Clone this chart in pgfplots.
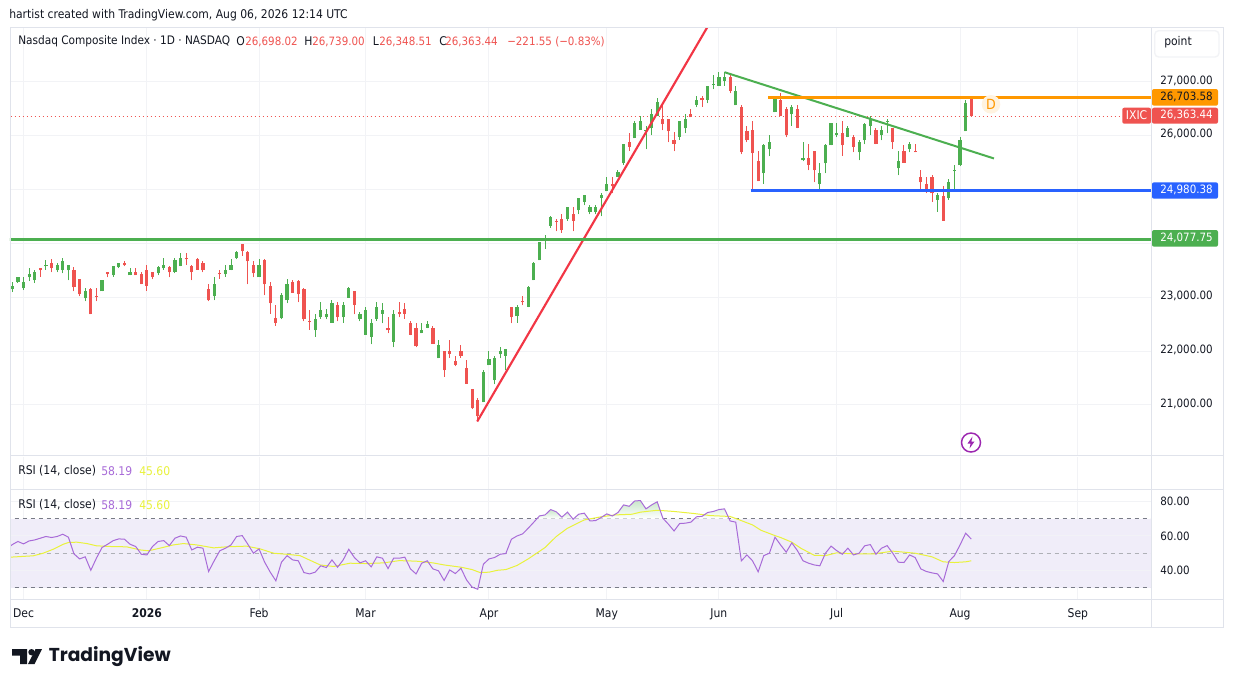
\documentclass[border=0pt]{standalone}
\usepackage{fontspec}
\setmainfont{DejaVu Sans Condensed}
\newfontfamily\logofont{Poppins}
\usepackage{pgfplots}
\usepackage{pgfplotstable}
\pgfplotsset{compat=1.18}
\definecolor{cg}{HTML}{4CAF50}
\definecolor{cr}{HTML}{EF5350}
\definecolor{ctrend}{HTML}{F23645}
\definecolor{corange}{HTML}{FF9800}
\definecolor{cblue}{HTML}{2962FF}
\definecolor{cgrid}{HTML}{F2F3F6}
\definecolor{cframe}{HTML}{E0E3EB}
\definecolor{ctext}{HTML}{131722}
\definecolor{cpurple}{HTML}{A86BD8}
\definecolor{cyellow}{HTML}{E9F23C}
\definecolor{cband}{HTML}{F0EDF9}
\definecolor{cdash}{HTML}{787B86}
\definecolor{cbolt}{HTML}{9C27B0}
\newcommand\numfont{\fontsize{8.6}{11}\selectfont}
\pgfplotstableread{
x o h l c
0 23143 23291 23093 23217
1 23279 23366 23261 23366
2 23162 23366 23131 23273
3 23366 23533 23298 23422
4 23310 23514 23261 23459
6 23570 23682 23514 23589
8 23496 23626 23459 23589
9 23514 23719 23440 23663
10 23496 23607 23310 23607
13 22976 23162 22920 23124
16 23106 23310 23106 23310
18 23403 23570 23384 23570
19 23552 23626 23533 23626
21 23403 23533 23403 23477
26 23440 23570 23403 23552
27 23533 23737 23514 23589
29 23477 23719 23440 23682
30 23570 23812 23570 23737
36 23013 23384 22939 23236
38 23422 23607 23384 23514
39 23514 23700 23496 23607
40 23719 23867 23700 23830
44 23366 23700 23366 23589
48 22605 23087 22586 23032
49 22939 23329 22883 23236
54 22382 22697 22270 22586
55 22623 22902 22604 22753
56 22623 22772 22586 22697
57 22530 22957 22530 22883
59 22623 22902 22530 22864
60 22994 23180 22994 23162
62 22604 22716 22549 22679
63 22307 22809 22307 22753
64 22270 22604 22122 22530
65 22604 22902 22567 22809
66 22697 22883 22512 22753
68 22177 22753 22066 22697
73 22326 22530 22326 22382
74 22437 22567 22419 22493
76 21862 22196 21862 22103
84 21045 21657 21045 21602
85 21732 21992 21732 21843
86 21453 21917 21379 21880
87 21936 22066 21862 22010
88 21917 22029 21639 22029
90 22642 22846 22530 22827
92 22827 23199 22809 23180
93 23310 23660 23310 23644
94 23682 24034 23682 24016
95 24078 24164 23904 24090
96 24331 24517 24294 24480
99 24443 24666 24424 24666
101 24610 24851 24536 24833
102 24777 24907 24703 24889
103 24591 24721 24536 24666
104 24591 24721 24536 24684
105 24851 24944 24499 24889
106 24963 25223 24963 25111
108 25241 25371 25223 25334
109 25483 25854 25464 25836
111 25947 26263 25947 26244
112 26114 26356 26114 26281
113 26077 26188 25743 26096
114 26133 26486 26003 26411
115 26374 26708 26374 26634
119 25984 26281 25928 26281
120 26133 26411 26040 26300
122 26578 26727 26523 26653
124 26671 26931 26597 26931
125 26950 27117 26857 26968
126 26931 27191 26931 27098
127 27024 27191 26931 27098
129 26560 26931 26560 26838
134 25297 25854 25111 25817
135 25761 26021 25613 25891
136 26430 26690 26430 26690
139 26393 26560 26188 26523
141 25539 25891 25520 25594
144 25093 25501 25018 25297
145 25483 25836 25297 25817
146 25817 26244 25817 26226
147 26021 26244 25966 26040
149 25984 26188 25966 26133
151 25687 25910 25539 25873
152 25910 26226 25836 26207
153 26170 26356 26021 26300
155 26003 26170 25910 26114
156 26263 26318 26040 26281
158 25390 25706 25260 25520
160 25761 25891 25687 25836
165 24814 24944 24591 24889
167 24833 25186 24814 25130
168 25340 25464 25018 25371
169 25446 25966 25427 25910
170 26077 26671 26077 26597
}\upbars
\pgfplotstableread{
x o h l c
5 23533 23533 23384 23496
7 23644 23700 23459 23533
11 23496 23552 23106 23180
12 23329 23347 23013 23050
14 23143 23162 22679 22679
15 23013 23162 22920 23001
17 23459 23477 23366 23422
20 23644 23663 23570 23589
22 23477 23533 23403 23403
23 23422 23459 23236 23236
24 23496 23589 23124 23217
25 23459 23477 23329 23384
28 23552 23570 23366 23459
31 23737 23812 23607 23700
32 23570 23589 23310 23459
33 23700 23719 23514 23514
34 23644 23663 23459 23496
35 23143 23236 22920 22939
37 23440 23514 23347 23422
41 23979 23997 23774 23849
42 23830 23849 23236 23663
43 23589 23663 23366 23440
45 23682 23700 23032 23236
46 23217 23273 22697 22883
47 22605 22846 22474 22530
50 23273 23310 23087 23087
51 23292 23310 22902 23050
52 23143 23162 22549 22586
53 22567 22753 22400 22555
58 22846 22902 22549 22623
61 23106 23106 22679 22864
67 22419 22623 22326 22382
69 22734 22920 22623 22679
70 22772 22883 22604 22697
71 22530 22549 22289 22307
72 22437 22530 22066 22085
75 22419 22474 22140 22140
77 21992 22010 21527 21639
78 22010 22196 21880 21936
79 21806 21917 21713 21750
80 22010 22103 21880 21917
81 21694 21825 21397 21397
82 21286 21304 20915 20933
83 21100 21137 20710 20785
89 22827 22827 22512 22623
91 22920 23013 22846 22902
97 24424 24443 24220 24406
98 24461 24536 24201 24239
100 24554 24666 24220 24424
107 25111 25223 24926 25056
110 25891 26040 25724 25798
116 26300 26560 26096 26207
117 26300 26318 25873 26077
118 25928 26059 25706 25854
121 26393 26504 26337 26337
123 26708 26727 26541 26653
128 27098 27117 26783 26838
130 26541 26578 25650 25687
131 26077 26188 25873 25910
132 26114 26263 24981 25669
133 25520 25724 25149 25149
137 26653 26801 26356 26356
138 26504 26523 25966 26003
140 26486 26560 26133 26151
142 25576 25854 25353 25464
143 25724 25724 25130 25353
148 26058 26263 25631 25817
150 25966 26021 25687 25798
154 26096 26151 25836 25854
157 26151 26151 25761 25873
159 25724 25817 25501 25501
161 25706 25854 25687 25687
162 25241 25371 24981 25130
163 25111 25223 24926 24981
164 25241 25260 24777 24926
166 24870 25056 24424 24424
171 26698 26739 26348 26363
}\downbars
\pgfplotstableread{
x r
-1 52.5
0 55.0
1 56.8
2 55.4
3 57.1
4 57.7
5 58.7
6 59.7
7 59.1
8 59.7
9 61.0
10 59.3
11 49.6
12 46.7
13 47.9
14 40.1
15 47.1
16 53.3
17 55.2
18 57.3
19 58.3
20 58.1
21 55.2
22 53.9
23 49.4
24 49.0
25 53.9
26 56.8
27 57.3
28 54.4
29 58.7
30 60.0
31 59.3
32 51.9
33 53.5
34 52.9
35 39.4
36 45.6
37 51.4
38 52.9
39 54.8
40 59.7
41 60.2
42 55.2
43 50.0
44 52.5
45 44.8
46 39.0
47 34.0
48 44.8
49 48.6
50 46.1
51 45.6
52 38.8
53 38.0
54 39.0
55 42.7
56 41.7
57 46.1
58 41.9
59 46.1
60 52.3
61 47.5
62 44.4
63 45.6
64 42.1
65 47.9
66 47.1
67 41.1
68 47.1
69 47.1
70 47.7
71 40.9
72 38.0
73 44.2
74 45.6
75 40.9
76 39.8
77 34.2
78 40.3
79 38.2
80 41.3
81 34.5
82 30.3
83 29.1
84 43.6
85 46.7
86 47.5
87 49.4
88 49.8
89 58.1
90 60.0
91 61.2
92 64.5
93 68.0
94 71.6
95 72.2
96 75.3
97 74.0
98 70.9
99 73.8
100 69.7
101 72.6
102 73.2
103 68.7
104 68.9
105 70.7
106 72.8
107 71.6
108 73.6
109 78.0
110 77.2
111 80.3
112 80.5
113 75.7
114 78.0
115 79.8
116 70.3
117 66.8
118 62.9
119 67.2
120 67.4
121 68.0
122 71.1
123 71.4
124 73.6
125 74.2
126 75.3
127 75.7
128 68.7
129 68.0
130 45.6
131 49.0
132 45.6
133 39.2
134 48.6
135 50.0
136 59.3
137 54.8
138 50.6
139 56.0
140 51.5
141 45.6
142 44.2
143 43.2
144 42.7
145 50.0
146 54.1
147 51.5
148 49.4
149 52.9
150 49.0
151 50.0
152 54.3
153 55.0
154 49.4
155 52.9
156 54.4
157 50.0
158 44.8
159 44.6
160 49.0
161 47.5
162 40.9
163 39.4
164 38.6
165 38.0
166 33.6
167 45.2
168 48.6
169 54.8
170 61.6
171 58.19
}\rsidata
\pgfplotstableread{
x m
-0.4 47.7
3.75 48.5
5.5 50.0
7.3 52.3
9.1 55.2
10 56.2
11.5 56.4
13.3 55.6
15 54.3
17.4 53.9
20.4 53.7
22.8 51.9
24.3 51.4
26.3 52.9
28.7 54.8
30.5 55.6
32.9 54.8
35.9 53.1
38.2 53.7
41.8 54.1
44.2 52.5
46.6 50.0
48.9 49.4
51.3 48.6
54.9 43.2
57.3 42.3
60.2 44.2
63.2 44.0
66.2 44.4
69 45.7
72 45.4
75 44.4
77 43.2
80 41.9
82 40.5
83.4 38.8
85 39.0
86.5 40.1
88 40.5
90 42.9
92 46.7
95 53.3
97 59.7
99 64.5
102 69.3
105 71.1
107.5 72.2
110.5 72.6
112 73.8
115 74.9
118 74.2
121.6 73.0
124.5 71.8
128 71.3
129.5 69.5
132 66.4
133.5 63.3
136 60.2
137 59.1
139 56.4
140.6 52.9
143 48.8
145 48.6
147 50.2
150 49.6
153.6 49.6
157 51.2
161 50.0
164 47.9
166 45.0
168 44.6
170 45.0
171 45.6
}\madata
\pgfplotsset{
  pane/.style={
    scale only axis, width=855.75pt,
    xmin=-0.41, xmax=203.05,
    axis line style={draw=none},
    major tick length=0pt,
    scaled y ticks=false,
    xtick={2,24,44,63,85,106,126,147,169,190},
    xmajorgrids, ymajorgrids,
    grid style={color=cgrid,line width=0.75pt},
    xticklabel style={font=\fontsize{9}{11}\selectfont, color=ctext},
    yticklabel pos=right,
    yticklabel style={
      font=\numfont, color=ctext,
      /pgf/number format/fixed,
      /pgf/number format/fixed zerofill,
      /pgf/number format/precision=2,
      /pgf/number format/1000 sep={,},
      /pgf/number format/assume math mode=true,
      anchor=west,xshift=3.4pt,yshift=1pt},
    clip=true,
  },
  wick/.style={forget plot, no markers, draw=none, error bars/.cd, y dir=plus, y explicit, error mark=none, error bar style={line width=0.75pt,draw=#1,solid}},
  body/.style={forget plot, no markers, draw=none, error bars/.cd, y dir=plus, y explicit, error mark=none, error bar style={line width=2.4pt,draw=#1,solid}},
}
\begin{document}
\begin{tikzpicture}[x=0.75pt,y=-0.75pt,font=\fontsize{9}{11}\selectfont,text=ctext]
\path[use as bounding box,fill=white] (0,0) rectangle (1233,687);
% main pane
\begin{axis}[pane, at={(7.5pt,-341.625pt)}, anchor=south west, height=321pt,
  ymin=20060, ymax=28008,
  xticklabels={},
  ytick={21000,22000,23000,26000,27000},
  extra y ticks={24000,25000}, extra y tick labels={},
  extra y tick style={grid=major},
]
\addplot[forget plot,cr,dash pattern=on 0.75pt off 2.25pt,line width=0.75pt] coordinates {(-1,26363.44)(198.2,26363.44)};
\addplot[wick=cg] table[x=x,y=l,y error plus expr=\thisrow{h}-\thisrow{l}] {\upbars};
\addplot[wick=cr] table[x=x,y=l,y error plus expr=\thisrow{h}-\thisrow{l}] {\downbars};
\addplot[body=cg] table[x=x,y=o,y error plus expr=\thisrow{c}-\thisrow{o}] {\upbars};
\addplot[body=cr] table[x=x,y=c,y error plus expr=\thisrow{o}-\thisrow{c}] {\downbars};
\addplot[forget plot,ctrend,line width=1.6pt] coordinates {(82.9,20692)(123.9,28008)};
\addplot[forget plot,cg,line width=1.5pt] coordinates {(127,27178)(175.05,25576)};
\addplot[forget plot,corange,line width=2.25pt] coordinates {(134.8,26703.58)(204,26703.58)};
\addplot[forget plot,cblue,line width=2.25pt] coordinates {(131.7,24980.38)(204,24980.38)};
\addplot[forget plot,cg,line width=2.25pt] coordinates {(-1,24077.75)(204,24077.75)};
\end{axis}
% empty pane
\begin{axis}[pane, at={(7.5pt,-367.125pt)}, anchor=south west, height=24.75pt,
  ymin=0, ymax=1, ytick=\empty, xticklabels={}]
\end{axis}
% RSI pane
\begin{axis}[pane, at={(7.5pt,-449.625pt)}, anchor=south west, height=82.5pt,
  ymin=23.16, ymax=86.93,
  ytick={40,60,80},
  xticklabels={Dec,\textbf{2026},Feb,Mar,Apr,May,Jun,Jul,Aug,Sep},
  typeset ticklabels with strut,
  xticklabel style={yshift=-2.3pt},
  yticklabel style={yshift=-2.1pt},
]
\addplot[forget plot,fill=cband,draw=none] coordinates {(-1,30)(204,30)(204,70)(-1,70)} -- cycle;
\addplot[forget plot,color=cgrid!80!cband,line width=0.75pt] coordinates {(-1,60)(204,60)};
\addplot[forget plot,color=cgrid!80!cband,line width=0.75pt] coordinates {(-1,40)(204,40)};
\addplot[forget plot,cdash,line width=0.75pt,dash pattern=on 3pt off 3pt] coordinates {(-1,70)(204,70)};
\addplot[forget plot,cdash,line width=0.75pt,dash pattern=on 3pt off 3pt] coordinates {(-1,30)(204,30)};
\addplot[forget plot,cdash!60,line width=0.75pt,dash pattern=on 3pt off 3pt] coordinates {(-1,50)(204,50)};
\addplot[forget plot,draw=none,top color=cg!30,bottom color=white] coordinates {(93.55,70)(94,71.6)(95,72.2)(96,75.3)(97,74)(98,70.9)(99,73.8)(99.9,70)} -- cycle;
\addplot[forget plot,draw=none,top color=cg!12,bottom color=white] coordinates {(100.1,70)(101,72.6)(102,73.2)(102.75,70)} -- cycle;
\addplot[forget plot,draw=none,top color=cg!30,bottom color=white] coordinates {(104.6,70)(105,70.7)(106,72.8)(107,71.6)(108,73.6)(109,78)(110,77.2)(111,80.3)(112,80.5)(113,75.7)(114,78)(115,79.8)(116,70.3)(116.1,70)} -- cycle;
\addplot[forget plot,draw=none,top color=cg!15,bottom color=white] coordinates {(121.7,70)(122,71.1)(123,71.4)(124,73.6)(125,74.2)(126,75.3)(127,75.7)(127.8,70)} -- cycle;
\addplot[forget plot,cyellow,line width=0.75pt] table[x=x,y=m] {\madata};
\addplot[forget plot,cpurple,line width=0.75pt] table[x=x,y=r] {\rsidata};
\end{axis}
% frame
\draw[cframe,line width=0.75pt] (10,27) rectangle (1223,627);
\draw[cframe,line width=0.75pt] (10,455.5) -- (1223,455.5);
\draw[cframe,line width=0.75pt] (10,489.5) -- (1223,489.5);
\draw[cframe,line width=0.75pt] (10,599.5) -- (1223,599.5);
\draw[cframe,line width=0.75pt] (1151.5,27) -- (1151.5,627);
% tags
\newcommand\tagbox[5]{\fill[#1,rounded corners=1.5pt] (1152,#2) rectangle (1218,#3);
  \node[anchor=west,inner sep=0pt,text=#4,font=\numfont] at (1160,{(#2+#3)/2-0.3}) {#5};}
\tagbox{corange}{89}{105.7}{ctext}{26,703.58}
\tagbox{cr}{107.7}{123.7}{white}{26,363.44}
\tagbox{cblue}{182.3}{198.7}{white}{24,980.38}
\tagbox{cg}{230}{246.7}{white}{24,077.75}
\fill[cr,rounded corners=1.5pt] (1122.3,107.7) rectangle (1151,123.7);
\node[anchor=center,inner sep=0pt,text=white] at (1136.6,115.5) {IXIC};
\draw[cgrid,line width=1pt,rounded corners=3pt] (1154.7,30.7) rectangle (1219,57);
\node[anchor=west,inner sep=0pt] at (1164,42.5) {point};
% header text
\node[anchor=west,inner sep=0pt] at (9,14.7) {hartist created with TradingView.com, Aug 06, 2026 12:14 UTC};
\node[anchor=west,inner sep=0pt,font=\fontsize{8.8}{11}\selectfont] at (18,41.5) {Nasdaq Composite Index · 1D · NASDAQ};
\node[anchor=west,inner sep=0pt] at (236,41.5) {O};
\node[anchor=west,inner sep=0pt,text=cr,font=\numfont] at (245,41.5) {26,698.02};
\node[anchor=west,inner sep=0pt] at (304,41.5) {H};
\node[anchor=west,inner sep=0pt,text=cr,font=\numfont] at (312,41.5) {26,739.00};
\node[anchor=west,inner sep=0pt] at (372.5,41.5) {L};
\node[anchor=west,inner sep=0pt,text=cr,font=\numfont] at (379,41.5) {26,348.51};
\node[anchor=west,inner sep=0pt] at (439,41.5) {C};
\node[anchor=west,inner sep=0pt,text=cr,font=\numfont] at (445,41.5) {26,363.44};
\node[anchor=west,inner sep=0pt,text=cr,font=\numfont] at (507,41.5) {−221.55 (−0.83\%)};
% RSI legends
\node[anchor=west,inner sep=0pt] at (18,471) {RSI (14, close)};
\node[anchor=west,inner sep=0pt,text=cpurple] at (101,471) {58.19};
\node[anchor=west,inner sep=0pt,text=cyellow] at (139,471) {45.60};
\node[anchor=west,inner sep=0pt] at (18,505) {RSI (14, close)};
\node[anchor=west,inner sep=0pt,text=cpurple] at (101,505) {58.19};
\node[anchor=west,inner sep=0pt,text=cyellow] at (139,505) {45.60};
% D marker
\fill[corange!12] (991,104.3) circle (9.3);
\node[text=corange,inner sep=0pt,font=\fontsize{10.5}{11}\selectfont] at (991,104.3) {D};
% bolt
\draw[cbolt,line width=1.1pt] (971,442.5) circle (9.5);
\fill[cbolt] (972.5,436.5) -- (967.5,443.5) -- (970.6,443.5) -- (969.5,448.5) -- (974.5,441.5) -- (971.4,441.5) -- cycle;
% logo
\fill[ctext!95!black] (12,649) -- (27,649) -- (27,664) -- (20,664) -- (20,655.5) -- (12,655.5) -- cycle;
\fill[ctext!95!black] (31.5,652.2) circle (3.2);
\fill[ctext!95!black] (35.5,649) -- (42,649) -- (34.5,664) -- (28,664) -- cycle;
\node[anchor=west,inner sep=0pt,text=ctext,font=\logofont\fontsize{14}{18}\selectfont] at (48.5,657) {\textbf{TradingView}};
\end{tikzpicture}
\end{document}
